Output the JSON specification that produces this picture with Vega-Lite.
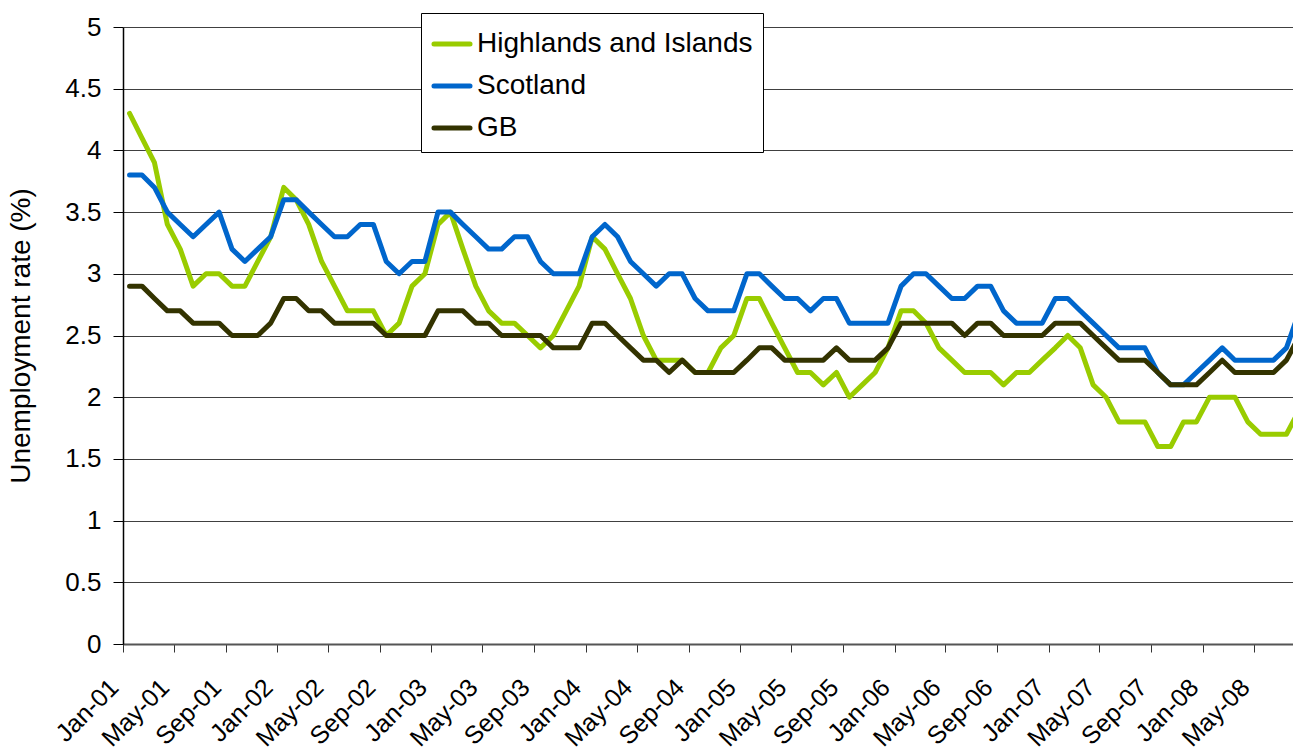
{
  "$schema": "https://vega.github.io/schema/vega-lite/v6.json",
  "width": 1170,
  "height": 617,
  "autosize": {"type": "none"},
  "padding": {"left": 123, "top": 27, "right": 0, "bottom": 111},
  "background": "white",
  "config": {"view": {"stroke": null}, "font": "Liberation Sans"},
  "data": {"values": [
    {"m": "2001-01-01", "Highlands and Islands": 4.3, "Scotland": 3.8, "GB": 2.9},
    {"m": "2001-02-01", "Highlands and Islands": 4.1, "Scotland": 3.8, "GB": 2.9},
    {"m": "2001-03-01", "Highlands and Islands": 3.9, "Scotland": 3.7, "GB": 2.8},
    {"m": "2001-04-01", "Highlands and Islands": 3.4, "Scotland": 3.5, "GB": 2.7},
    {"m": "2001-05-01", "Highlands and Islands": 3.2, "Scotland": 3.4, "GB": 2.7},
    {"m": "2001-06-01", "Highlands and Islands": 2.9, "Scotland": 3.3, "GB": 2.6},
    {"m": "2001-07-01", "Highlands and Islands": 3.0, "Scotland": 3.4, "GB": 2.6},
    {"m": "2001-08-01", "Highlands and Islands": 3.0, "Scotland": 3.5, "GB": 2.6},
    {"m": "2001-09-01", "Highlands and Islands": 2.9, "Scotland": 3.2, "GB": 2.5},
    {"m": "2001-10-01", "Highlands and Islands": 2.9, "Scotland": 3.1, "GB": 2.5},
    {"m": "2001-11-01", "Highlands and Islands": 3.1, "Scotland": 3.2, "GB": 2.5},
    {"m": "2001-12-01", "Highlands and Islands": 3.3, "Scotland": 3.3, "GB": 2.6},
    {"m": "2002-01-01", "Highlands and Islands": 3.7, "Scotland": 3.6, "GB": 2.8},
    {"m": "2002-02-01", "Highlands and Islands": 3.6, "Scotland": 3.6, "GB": 2.8},
    {"m": "2002-03-01", "Highlands and Islands": 3.4, "Scotland": 3.5, "GB": 2.7},
    {"m": "2002-04-01", "Highlands and Islands": 3.1, "Scotland": 3.4, "GB": 2.7},
    {"m": "2002-05-01", "Highlands and Islands": 2.9, "Scotland": 3.3, "GB": 2.6},
    {"m": "2002-06-01", "Highlands and Islands": 2.7, "Scotland": 3.3, "GB": 2.6},
    {"m": "2002-07-01", "Highlands and Islands": 2.7, "Scotland": 3.4, "GB": 2.6},
    {"m": "2002-08-01", "Highlands and Islands": 2.7, "Scotland": 3.4, "GB": 2.6},
    {"m": "2002-09-01", "Highlands and Islands": 2.5, "Scotland": 3.1, "GB": 2.5},
    {"m": "2002-10-01", "Highlands and Islands": 2.6, "Scotland": 3.0, "GB": 2.5},
    {"m": "2002-11-01", "Highlands and Islands": 2.9, "Scotland": 3.1, "GB": 2.5},
    {"m": "2002-12-01", "Highlands and Islands": 3.0, "Scotland": 3.1, "GB": 2.5},
    {"m": "2003-01-01", "Highlands and Islands": 3.4, "Scotland": 3.5, "GB": 2.7},
    {"m": "2003-02-01", "Highlands and Islands": 3.5, "Scotland": 3.5, "GB": 2.7},
    {"m": "2003-03-01", "Highlands and Islands": 3.2, "Scotland": 3.4, "GB": 2.7},
    {"m": "2003-04-01", "Highlands and Islands": 2.9, "Scotland": 3.3, "GB": 2.6},
    {"m": "2003-05-01", "Highlands and Islands": 2.7, "Scotland": 3.2, "GB": 2.6},
    {"m": "2003-06-01", "Highlands and Islands": 2.6, "Scotland": 3.2, "GB": 2.5},
    {"m": "2003-07-01", "Highlands and Islands": 2.6, "Scotland": 3.3, "GB": 2.5},
    {"m": "2003-08-01", "Highlands and Islands": 2.5, "Scotland": 3.3, "GB": 2.5},
    {"m": "2003-09-01", "Highlands and Islands": 2.4, "Scotland": 3.1, "GB": 2.5},
    {"m": "2003-10-01", "Highlands and Islands": 2.5, "Scotland": 3.0, "GB": 2.4},
    {"m": "2003-11-01", "Highlands and Islands": 2.7, "Scotland": 3.0, "GB": 2.4},
    {"m": "2003-12-01", "Highlands and Islands": 2.9, "Scotland": 3.0, "GB": 2.4},
    {"m": "2004-01-01", "Highlands and Islands": 3.3, "Scotland": 3.3, "GB": 2.6},
    {"m": "2004-02-01", "Highlands and Islands": 3.2, "Scotland": 3.4, "GB": 2.6},
    {"m": "2004-03-01", "Highlands and Islands": 3.0, "Scotland": 3.3, "GB": 2.5},
    {"m": "2004-04-01", "Highlands and Islands": 2.8, "Scotland": 3.1, "GB": 2.4},
    {"m": "2004-05-01", "Highlands and Islands": 2.5, "Scotland": 3.0, "GB": 2.3},
    {"m": "2004-06-01", "Highlands and Islands": 2.3, "Scotland": 2.9, "GB": 2.3},
    {"m": "2004-07-01", "Highlands and Islands": 2.3, "Scotland": 3.0, "GB": 2.2},
    {"m": "2004-08-01", "Highlands and Islands": 2.3, "Scotland": 3.0, "GB": 2.3},
    {"m": "2004-09-01", "Highlands and Islands": 2.2, "Scotland": 2.8, "GB": 2.2},
    {"m": "2004-10-01", "Highlands and Islands": 2.2, "Scotland": 2.7, "GB": 2.2},
    {"m": "2004-11-01", "Highlands and Islands": 2.4, "Scotland": 2.7, "GB": 2.2},
    {"m": "2004-12-01", "Highlands and Islands": 2.5, "Scotland": 2.7, "GB": 2.2},
    {"m": "2005-01-01", "Highlands and Islands": 2.8, "Scotland": 3.0, "GB": 2.3},
    {"m": "2005-02-01", "Highlands and Islands": 2.8, "Scotland": 3.0, "GB": 2.4},
    {"m": "2005-03-01", "Highlands and Islands": 2.6, "Scotland": 2.9, "GB": 2.4},
    {"m": "2005-04-01", "Highlands and Islands": 2.4, "Scotland": 2.8, "GB": 2.3},
    {"m": "2005-05-01", "Highlands and Islands": 2.2, "Scotland": 2.8, "GB": 2.3},
    {"m": "2005-06-01", "Highlands and Islands": 2.2, "Scotland": 2.7, "GB": 2.3},
    {"m": "2005-07-01", "Highlands and Islands": 2.1, "Scotland": 2.8, "GB": 2.3},
    {"m": "2005-08-01", "Highlands and Islands": 2.2, "Scotland": 2.8, "GB": 2.4},
    {"m": "2005-09-01", "Highlands and Islands": 2.0, "Scotland": 2.6, "GB": 2.3},
    {"m": "2005-10-01", "Highlands and Islands": 2.1, "Scotland": 2.6, "GB": 2.3},
    {"m": "2005-11-01", "Highlands and Islands": 2.2, "Scotland": 2.6, "GB": 2.3},
    {"m": "2005-12-01", "Highlands and Islands": 2.4, "Scotland": 2.6, "GB": 2.4},
    {"m": "2006-01-01", "Highlands and Islands": 2.7, "Scotland": 2.9, "GB": 2.6},
    {"m": "2006-02-01", "Highlands and Islands": 2.7, "Scotland": 3.0, "GB": 2.6},
    {"m": "2006-03-01", "Highlands and Islands": 2.6, "Scotland": 3.0, "GB": 2.6},
    {"m": "2006-04-01", "Highlands and Islands": 2.4, "Scotland": 2.9, "GB": 2.6},
    {"m": "2006-05-01", "Highlands and Islands": 2.3, "Scotland": 2.8, "GB": 2.6},
    {"m": "2006-06-01", "Highlands and Islands": 2.2, "Scotland": 2.8, "GB": 2.5},
    {"m": "2006-07-01", "Highlands and Islands": 2.2, "Scotland": 2.9, "GB": 2.6},
    {"m": "2006-08-01", "Highlands and Islands": 2.2, "Scotland": 2.9, "GB": 2.6},
    {"m": "2006-09-01", "Highlands and Islands": 2.1, "Scotland": 2.7, "GB": 2.5},
    {"m": "2006-10-01", "Highlands and Islands": 2.2, "Scotland": 2.6, "GB": 2.5},
    {"m": "2006-11-01", "Highlands and Islands": 2.2, "Scotland": 2.6, "GB": 2.5},
    {"m": "2006-12-01", "Highlands and Islands": 2.3, "Scotland": 2.6, "GB": 2.5},
    {"m": "2007-01-01", "Highlands and Islands": 2.4, "Scotland": 2.8, "GB": 2.6},
    {"m": "2007-02-01", "Highlands and Islands": 2.5, "Scotland": 2.8, "GB": 2.6},
    {"m": "2007-03-01", "Highlands and Islands": 2.4, "Scotland": 2.7, "GB": 2.6},
    {"m": "2007-04-01", "Highlands and Islands": 2.1, "Scotland": 2.6, "GB": 2.5},
    {"m": "2007-05-01", "Highlands and Islands": 2.0, "Scotland": 2.5, "GB": 2.4},
    {"m": "2007-06-01", "Highlands and Islands": 1.8, "Scotland": 2.4, "GB": 2.3},
    {"m": "2007-07-01", "Highlands and Islands": 1.8, "Scotland": 2.4, "GB": 2.3},
    {"m": "2007-08-01", "Highlands and Islands": 1.8, "Scotland": 2.4, "GB": 2.3},
    {"m": "2007-09-01", "Highlands and Islands": 1.6, "Scotland": 2.2, "GB": 2.2},
    {"m": "2007-10-01", "Highlands and Islands": 1.6, "Scotland": 2.1, "GB": 2.1},
    {"m": "2007-11-01", "Highlands and Islands": 1.8, "Scotland": 2.1, "GB": 2.1},
    {"m": "2007-12-01", "Highlands and Islands": 1.8, "Scotland": 2.2, "GB": 2.1},
    {"m": "2008-01-01", "Highlands and Islands": 2.0, "Scotland": 2.3, "GB": 2.2},
    {"m": "2008-02-01", "Highlands and Islands": 2.0, "Scotland": 2.4, "GB": 2.3},
    {"m": "2008-03-01", "Highlands and Islands": 2.0, "Scotland": 2.3, "GB": 2.2},
    {"m": "2008-04-01", "Highlands and Islands": 1.8, "Scotland": 2.3, "GB": 2.2},
    {"m": "2008-05-01", "Highlands and Islands": 1.7, "Scotland": 2.3, "GB": 2.2},
    {"m": "2008-06-01", "Highlands and Islands": 1.7, "Scotland": 2.3, "GB": 2.2},
    {"m": "2008-07-01", "Highlands and Islands": 1.7, "Scotland": 2.4, "GB": 2.3},
    {"m": "2008-08-01", "Highlands and Islands": 1.9, "Scotland": 2.7, "GB": 2.5}
  ]},
  "transform": [{"fold": ["Highlands and Islands", "Scotland", "GB"], "as": ["series", "rate"]}],
  "mark": {"type": "line", "strokeWidth": 5, "strokeJoin": "round", "strokeCap": "round", "clip": true},
  "encoding": {
    "x": {
      "field": "m", "type": "temporal", "timeUnit": "utcyearmonth", "bandPosition": 0.5,
      "scale": {"type": "utc", "nice": false, "domain": [{"year": 2001, "month": 1, "date": 1, "utc": true}, {"year": 2008, "month": 8, "date": 1, "utc": true}]},
      "axis": {
        "title": null,
        "values": [
          {"year": 2001, "month": 1, "date": 1, "utc": true}, {"year": 2001, "month": 5, "date": 1, "utc": true}, {"year": 2001, "month": 9, "date": 1, "utc": true},
          {"year": 2002, "month": 1, "date": 1, "utc": true}, {"year": 2002, "month": 5, "date": 1, "utc": true}, {"year": 2002, "month": 9, "date": 1, "utc": true},
          {"year": 2003, "month": 1, "date": 1, "utc": true}, {"year": 2003, "month": 5, "date": 1, "utc": true}, {"year": 2003, "month": 9, "date": 1, "utc": true},
          {"year": 2004, "month": 1, "date": 1, "utc": true}, {"year": 2004, "month": 5, "date": 1, "utc": true}, {"year": 2004, "month": 9, "date": 1, "utc": true},
          {"year": 2005, "month": 1, "date": 1, "utc": true}, {"year": 2005, "month": 5, "date": 1, "utc": true}, {"year": 2005, "month": 9, "date": 1, "utc": true},
          {"year": 2006, "month": 1, "date": 1, "utc": true}, {"year": 2006, "month": 5, "date": 1, "utc": true}, {"year": 2006, "month": 9, "date": 1, "utc": true},
          {"year": 2007, "month": 1, "date": 1, "utc": true}, {"year": 2007, "month": 5, "date": 1, "utc": true}, {"year": 2007, "month": 9, "date": 1, "utc": true},
          {"year": 2008, "month": 1, "date": 1, "utc": true}, {"year": 2008, "month": 5, "date": 1, "utc": true}
        ],
        "labelExpr": "utcFormat(datum.value, '%b-%y')",
        "grid": false,
        "labelAngle": -45, "labelAlign": "right", "labelBaseline": "middle",
        "labelPadding": 31, "labelOffset": -9, "labelFontSize": 25, "labelColor": "black", "labelFont": "Liberation Sans",
        "labelOverlap": false, "labelFlush": false,
        "tickSize": 8, "tickColor": "#333333", "tickWidth": 1,
        "domainColor": "#555555", "domainWidth": 2
      }
    },
    "y": {
      "field": "rate", "type": "quantitative",
      "scale": {"domain": [0, 5], "nice": false, "zero": true},
      "axis": {
        "title": "Unemployment rate (%)",
        "titleFontSize": 28, "titleFontWeight": "normal", "titleColor": "black", "titleFont": "Liberation Sans", "titlePadding": 29,
        "values": [0, 0.5, 1, 1.5, 2, 2.5, 3, 3.5, 4, 4.5, 5],
        "labelExpr": "'' + datum.value",
        "labelFontSize": 26, "labelColor": "black", "labelFont": "Liberation Sans", "labelPadding": 12,
        "grid": true, "gridColor": "#404040", "gridWidth": 1,
        "tickSize": 10, "tickColor": "black", "tickWidth": 1,
        "domainColor": "black", "domainWidth": 1.5
      }
    },
    "color": {
      "field": "series", "type": "nominal",
      "scale": {"domain": ["Highlands and Islands", "Scotland", "GB"], "range": ["#99CC00", "#0066CC", "#333300"]},
      "legend": {
        "orient": "none", "legendX": 298, "legendY": -14, "title": null,
        "fillColor": "white", "strokeColor": "black", "padding": 10,
        "symbolType": "stroke", "symbolStrokeWidth": 5, "symbolSize": 1300,
        "labelFontSize": 28, "labelFont": "Liberation Sans", "labelColor": "black", "labelLimit": 500,
        "labelOffset": 4, "rowPadding": 7,
        "encode": {"symbols": {"update": {"strokeCap": {"value": "round"}}}}
      }
    }
  }
}
